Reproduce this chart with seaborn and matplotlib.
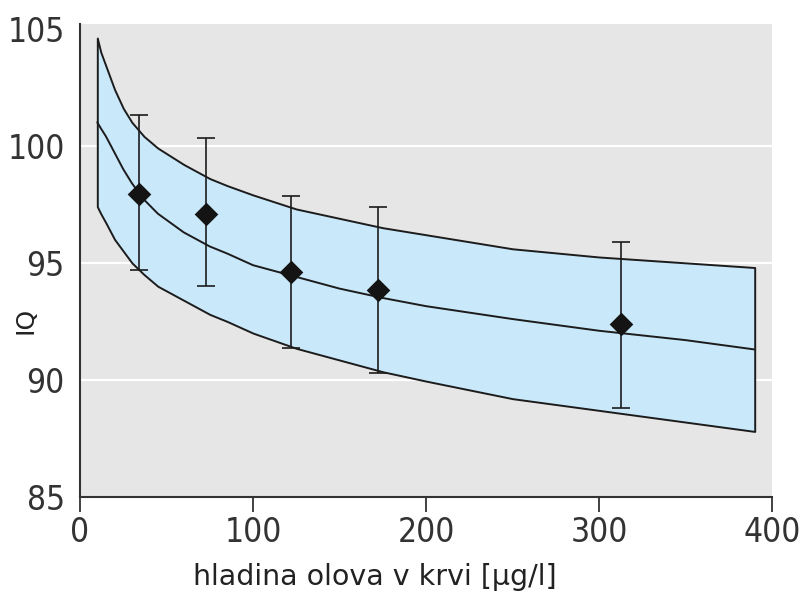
import matplotlib
matplotlib.use("Agg")
import matplotlib.pyplot as plt
import seaborn as sns

# regression curve with confidence band
lead = [10, 12, 15, 20, 25, 30, 37, 45, 60, 75, 85, 100, 125, 150, 175, 200, 250, 300, 350, 390]
iq_upper = [104.6, 104.0, 103.4, 102.4, 101.6, 101.0, 100.4, 99.9, 99.2, 98.6, 98.3, 97.9, 97.3,
            96.9, 96.5, 96.2, 95.6, 95.25, 95.0, 94.8]
iq_mid = [101.0, 100.75, 100.4, 99.7, 99.0, 98.4, 97.7, 97.1, 96.3, 95.7, 95.4, 94.9, 94.4,
          93.9, 93.5, 93.15, 92.6, 92.1, 91.7, 91.3]
iq_lower = [97.4, 97.1, 96.7, 96.0, 95.5, 95.0, 94.5, 94.0, 93.4, 92.8, 92.5, 92.0, 91.35,
            90.85, 90.35, 89.95, 89.2, 88.7, 88.2, 87.8]

# group means with error bars
group_lead = [34, 73, 122, 172, 313]
group_iq = [97.95, 97.1, 94.6, 93.85, 92.4]
group_lo = [94.7, 94.0, 91.35, 90.3, 88.8]
group_hi = [101.3, 100.35, 97.85, 97.4, 95.9]

x_ticks = [0, 100, 200, 300, 400]
y_ticks = [85, 90, 95, 100, 105]

sns.set_theme(style="darkgrid", rc={
    "axes.facecolor": "#e6e6e6",
    "grid.color": "white",
    "grid.linewidth": 1.6,
})
plt.rcParams["font.family"] = ["DejaVu Sans"]

line_col = "#1c1c1c"

fig = plt.figure(figsize=(8.03, 5.91), dpi=100)
ax = fig.add_axes([80 / 803, 94 / 591, 692 / 803, 473 / 591])

ax.fill_between(lead, iq_lower, iq_upper, facecolor="#c9e8fa",
                edgecolor=line_col, linewidth=1.4, zorder=1)
sns.lineplot(x=lead, y=iq_mid, color=line_col, linewidth=1.4, ax=ax, zorder=2)

yerr = [[m - lo for m, lo in zip(group_iq, group_lo)],
        [hi - m for m, hi in zip(group_iq, group_hi)]]
ax.errorbar(group_lead, group_iq, yerr=yerr, fmt="none", ecolor=line_col,
            elinewidth=1.2, capsize=6.5, capthick=1.2, zorder=3)
sns.scatterplot(x=group_lead, y=group_iq, marker="D", s=145, color="#141414",
                edgecolor="#141414", linewidth=0, ax=ax, zorder=4)

ax.set_xlim(0, 400)
ax.set_ylim(85, 105.2)
ax.set_xticks(x_ticks)
ax.set_yticks(y_ticks)
ax.xaxis.grid(False)
for val, gl in zip(y_ticks, ax.get_ygridlines()):
    gl.set_visible(val not in (85, 105))

for side in ["top", "right"]:
    ax.spines[side].set_visible(False)
for side in ["left", "bottom"]:
    ax.spines[side].set_visible(True)
    ax.spines[side].set_color("#333333")
    ax.spines[side].set_linewidth(1.5)

ax.tick_params(axis="x", bottom=True, length=11, width=1.3, color="#333333",
               direction="out", pad=3, labelsize=24, labelcolor="#333333")
ax.tick_params(axis="y", left=False, length=0, pad=11, labelsize=24,
               labelcolor="#333333")
for lab in ax.get_xticklabels() + ax.get_yticklabels():
    lab.set_fontfamily(["DejaVu Sans"])
    lab.set_fontstretch("condensed")

ax.set_ylabel("IQ", fontsize=18, color="#222222")
ax.yaxis.set_label_coords(-0.061, 0.374)
ax.set_xlabel("hladina olova v krvi [µg/l]", fontsize=20.5, color="#222222", loc="left")
ax.xaxis.set_label_coords(0.163, -0.14)

fig.savefig("out.png", dpi=100)
